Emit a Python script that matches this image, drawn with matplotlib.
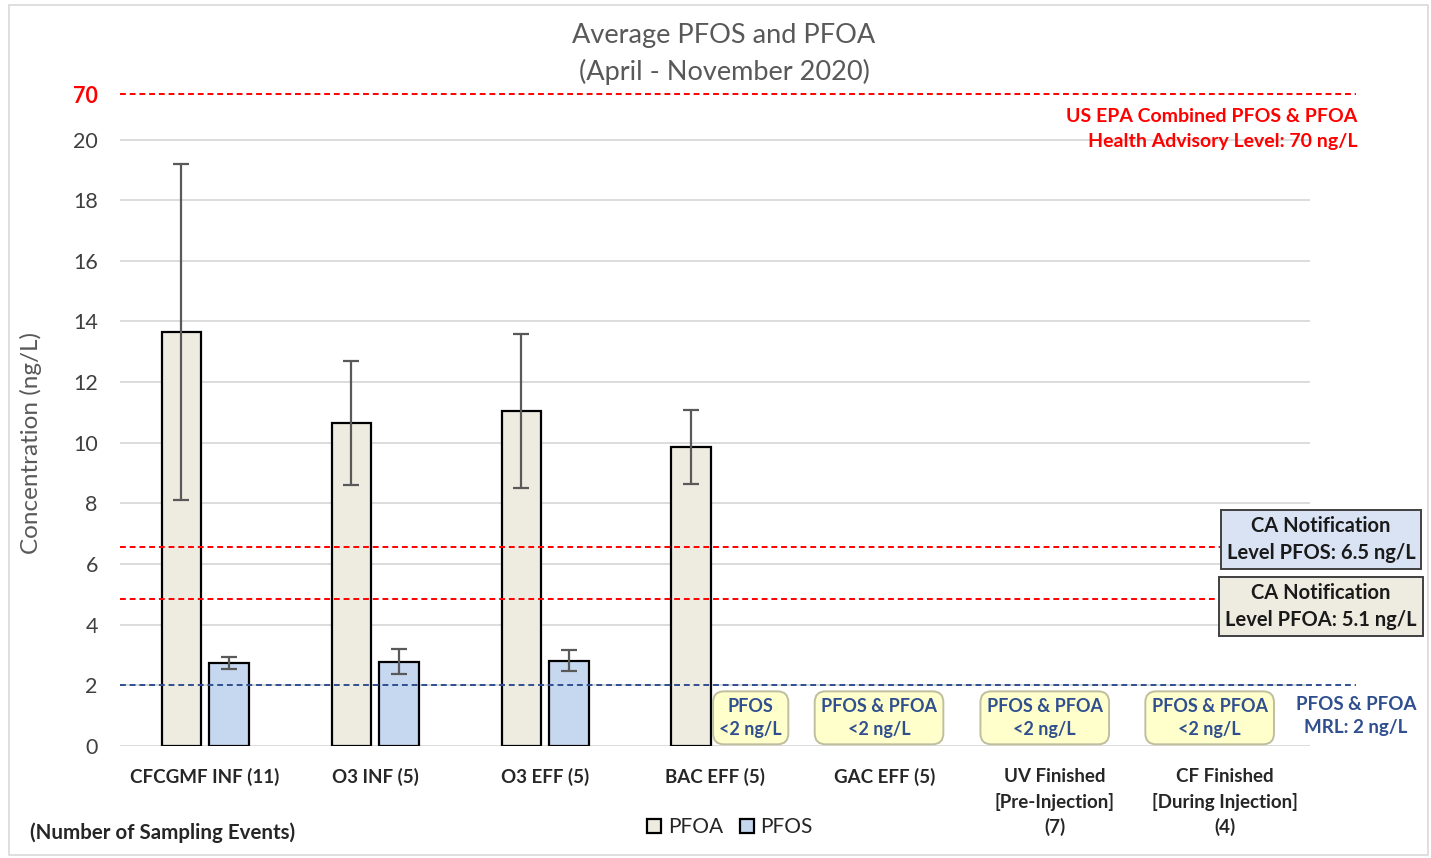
import matplotlib
matplotlib.use("Agg")
import matplotlib.pyplot as plt
from matplotlib.patches import Rectangle
import numpy as np

plt.rcParams["font.family"] = ["Lato", "DejaVu Sans"]

# ==========================================
# Data
# ==========================================

categories = [
    "CFCGMF INF (11)",
    "O3 INF (5)",
    "O3 EFF (5)",
    "BAC EFF (5)",
    "GAC EFF (5)",
    "UV Finished\n[Pre-Injection]\n(7)",
    "CF Finished\n[During Injection]\n(4)",
]

pfoa_vals = [13.65, 10.65, 11.05, 9.85, np.nan, np.nan, np.nan]
pfoa_err = [5.55, 2.05, 2.55, 1.22, 0, 0, 0]

pfos_vals = [2.75, 2.78, 2.82, np.nan, np.nan, np.nan, np.nan]
pfos_err = [0.2, 0.42, 0.35, 0, 0, 0, 0]

y_ticks = [0, 2, 4, 6, 8, 10, 12, 14, 16, 18, 20]

epa_level = 21.5          # drawn position of the 70 ng/L line (broken axis)
ca_pfos_level = 6.55
ca_pfoa_level = 4.85
mrl_level = 2.0

below_mrl_labels = [
    "PFOS\n<2 ng/L",
    "PFOS & PFOA\n<2 ng/L",
    "PFOS & PFOA\n<2 ng/L",
    "PFOS & PFOA\n<2 ng/L",
]
below_mrl_pos = [3.21, 3.965, 4.94, 5.91]

# ==========================================
# Styles
# ==========================================

PFOA_COLOR = "#EEECE1"
PFOS_COLOR = "#C6D7F0"
GRID_COLOR = "#D9D9D9"
TEXT_GRAY = "#595959"
RED = "#FF0000"
NAVY = "#2F4F8F"

# ==========================================
# Figure
# ==========================================

fig = plt.figure(figsize=(14.31, 8.58), dpi=100)
ax = fig.add_axes([0.0839, 0.1305, 0.8315, 0.7599])

x = np.arange(len(categories))
width = 0.23
offset = 0.141

ax.bar(
    x - offset, pfoa_vals, width,
    color=PFOA_COLOR, edgecolor="black", linewidth=1.6,
    yerr=pfoa_err, ecolor=TEXT_GRAY,
    error_kw=dict(elinewidth=1.6, capsize=6, capthick=1.6),
    zorder=3, label="PFOA",
)
ax.bar(
    x + offset, pfos_vals, width,
    color=PFOS_COLOR, edgecolor="black", linewidth=1.6,
    yerr=pfos_err, ecolor=TEXT_GRAY,
    error_kw=dict(elinewidth=1.6, capsize=6, capthick=1.6),
    zorder=3, label="PFOS",
)

ax.set_xlim(-0.5, 6.5)
ax.set_ylim(0, epa_level)

for t in y_ticks:
    ax.axhline(t, color=GRID_COLOR, linewidth=1.3, zorder=1)

ax.set_yticks(y_ticks + [epa_level])
ax.set_yticklabels([str(t) for t in y_ticks] + ["70"])
ax.tick_params(axis="y", length=0, pad=16, labelsize=15.5, labelcolor="#404040")
ytl = ax.get_yticklabels()
ytl[-1].set_color(RED)
ytl[-1].set_fontweight("bold")

ax.set_xticks(x)
ax.set_xticklabels(categories, fontsize=13.5, fontweight="bold",
                   color="#262626", va="top", linespacing=1.5)
ax.tick_params(axis="x", length=0, pad=16)

for s in ax.spines.values():
    s.set_visible(False)

ax.set_ylabel("Concentration (ng/L)", fontsize=17.5, color=TEXT_GRAY)
ax.yaxis.set_label_coords(-0.066, 10 / epa_level)

# reference lines (extend past the plot area like the original)
ax.plot([-0.5, 6.77], [epa_level, epa_level], ls=(0, (3, 2)), color=RED,
        lw=1.4, clip_on=False, zorder=4)
ax.plot([-0.5, 6.0], [ca_pfos_level, ca_pfos_level], ls=(0, (3, 2)),
        color=RED, lw=1.4, clip_on=False, zorder=4)
ax.plot([-0.5, 6.0], [ca_pfoa_level, ca_pfoa_level], ls=(0, (3, 2)),
        color=RED, lw=1.4, clip_on=False, zorder=4)
ax.plot([-0.5, 6.77], [mrl_level, mrl_level], ls=(0, (3, 2)), color=NAVY,
        lw=1.4, clip_on=False, zorder=4)

# ==========================================
# Annotations
# ==========================================

ax.text(6.78, 20.35, "US EPA Combined PFOS & PFOA\nHealth Advisory Level: 70 ng/L",
        ha="right", va="center", color=RED, fontsize=14, fontweight="bold",
        linespacing=1.6)

ca_boxes = [
    (6.82, "CA Notification\nLevel PFOS: 6.5 ng/L", "#DAE3F3"),
    (4.61, "CA Notification\nLevel PFOA: 5.1 ng/L", "#EEECE1"),
]
for level, label, fc in ca_boxes:
    ax.text(6.565, level, label, ha="center", va="center", fontsize=14.5,
            fontweight="bold", color="#1a1a1a", linespacing=1.45, zorder=5,
            clip_on=False,
            bbox=dict(boxstyle="square,pad=0.3", fc=fc, ec="#404040", lw=1.4))

for pos, label in zip(below_mrl_pos, below_mrl_labels):
    ax.text(pos, 0.93, label, ha="center", va="center", fontsize=13,
            fontweight="bold", color=NAVY, linespacing=1.45, zorder=5,
            bbox=dict(boxstyle="round,pad=0.35,rounding_size=0.6",
                      fc="#FFFFCC", ec="#BFBFA0", lw=1.4))

ax.text(6.77, 1.0, "PFOS & PFOA\nMRL: 2 ng/L", ha="center", va="center",
        fontsize=13.5, fontweight="bold", color=NAVY, linespacing=1.45,
        clip_on=False)

# ==========================================
# Title, legend, outer frame
# ==========================================

fig.text(0.506, 0.937, "Average PFOS and PFOA\n(April - November 2020)",
         ha="center", va="center", fontsize=19.5, color=TEXT_GRAY,
         linespacing=1.5)

fig.text(0.021, 0.030, "(Number of Sampling Events)", ha="left", va="center",
         fontsize=14.8, fontweight="bold", color="#262626")

leg = fig.legend(loc="center", bbox_to_anchor=(0.51, 0.036), ncol=2,
                 frameon=False, fontsize=15, handlelength=0.7,
                 handleheight=0.7, handletextpad=0.3, columnspacing=0.8)
for t in leg.get_texts():
    t.set_color("#262626")

fig.patches.append(Rectangle((0.006, 0.004), 0.992, 0.99, transform=fig.transFigure,
                             fill=False, ec="#D9D9D9", lw=1.2))

fig.savefig("out.png", dpi=100)
